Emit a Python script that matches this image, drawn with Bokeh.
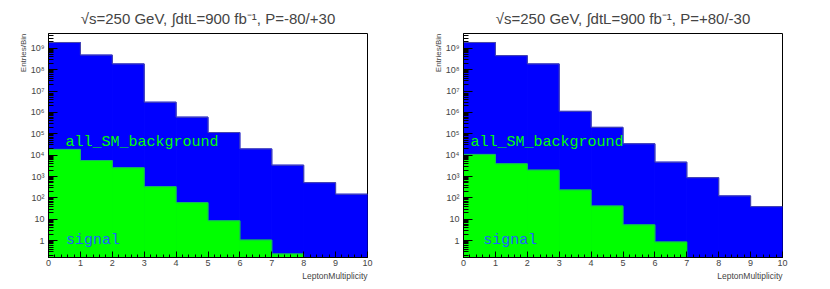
from bokeh.plotting import figure
from bokeh.layouts import row
from bokeh.models import FixedTicker, ColumnDataSource, Range1d, Title
from bokeh.core.properties import value
from bokeh.embed import file_html
from bokeh.resources import INLINE

# ---------------- data ----------------
bin_edges = [0, 1, 2, 3, 4, 5, 6, 7, 8, 9, 10]

bkg_left = [1.86e9, 4.8e8, 1.85e8, 3.0e6, 6.0e5, 1.14e5, 1.96e4, 3.4e3, 515, 149]
sig_left = [1.85e4, 5.6e3, 2.57e3, 336, 60, 8.5, 1.07, 0.24, 0, 0]

bkg_right = [1.86e9, 4.5e8, 1.85e8, 1.12e6, 2.0e5, 3.4e4, 4.7e3, 880, 124, 39]
sig_right = [1.08e4, 3.95e3, 2.0e3, 236, 42, 5.5, 0.87, 0, 0, 0]

titles = ["\u221as=250 GeV, \u222bdtL=900 fb\u207b\u00b9, P=-80/+30",
          "\u221as=250 GeV, \u222bdtL=900 fb\u207b\u00b9, P=+80/-30"]
x_title = "LeptonMultiplicity"
y_title = "Entries/Bin"
bkg_name = "all_SM_background"
sig_name = "signal"

y_ticks = [1, 10, 1e2, 1e3, 1e4, 1e5, 1e6, 1e7, 1e8, 1e9]
y_tick_labels = ["1", "10", "10\u00b2", "10\u00b3", "10\u2074", "10\u2075",
                 "10\u2076", "10\u2077", "10\u2078", "10\u2079"]
x_ticks = [0, 1, 2, 3, 4, 5, 6, 7, 8, 9, 10]

# legend-text anchor positions (data units)
bkg_text_pos = [(0.53, 3.9e4), (0.22, 3.9e4)]
sig_text_pos = [(0.55, 1.0), (0.62, 1.0)]

Y_LO, Y_HI = 0.163, 4.9e9
FLOOR = 1e-3

FONT = "Liberation Sans"
MONO = "Liberation Mono"


def make_panel(bkg, sig, title, left_border, right_border, bpos, spos):
    p = figure(width=left_border + 319 + right_border, height=288,
               y_axis_type="log", x_range=Range1d(0, 10),
               y_range=Range1d(Y_LO, Y_HI),
               output_backend="svg", toolbar_location=None,
               min_border_left=left_border, min_border_right=right_border,
               min_border_top=32, min_border_bottom=31)
    p.title = Title(text=title, align="center", text_font=FONT,
                    text_font_size="15px", text_font_style="normal",
                    standoff=14, offset=0)
    p.grid.visible = False
    p.outline_line_color = "black"
    p.outline_line_width = 1
    p.background_fill_color = "white"
    p.border_fill_color = "white"

    lefts = bin_edges[:-1]
    rights = bin_edges[1:]

    bsrc = ColumnDataSource(dict(left=lefts, right=rights, top=bkg,
                                 bottom=[FLOOR] * len(bkg)))
    p.quad(left="left", right="right", top="top", bottom="bottom",
           source=bsrc, fill_color="#0000ff", line_color="#0000ff",
           line_width=1)
    p.step(x=lefts + [bin_edges[-1]], y=bkg + [bkg[-1]], mode="after",
           line_color="#4a4aa8", line_width=1)

    idx = [i for i, v in enumerate(sig) if v > 0]
    ssrc = ColumnDataSource(dict(left=[lefts[i] for i in idx],
                                 right=[rights[i] for i in idx],
                                 top=[sig[i] for i in idx],
                                 bottom=[FLOOR] * len(idx)))
    p.quad(left="left", right="right", top="top", bottom="bottom",
           source=ssrc, fill_color="#00ff00", line_color="#00ff00",
           line_width=1)
    sx = [lefts[i] for i in idx] + [rights[idx[-1]]]
    sy = [sig[i] for i in idx] + [sig[idx[-1]]]
    p.step(x=sx, y=sy, mode="after", line_color="#2a8aa0", line_width=1,
           line_alpha=0.6)

    p.text(x=[bpos[0]], y=[bpos[1]], text=[bkg_name],
           text_color="#00ff00", text_font=value(MONO),
           text_font_size="15px", text_align="left", text_baseline="middle")
    p.text(x=[spos[0]], y=[spos[1]], text=[sig_name],
           text_color="#1f5fff", text_font=value(MONO),
           text_font_size="15px", text_align="left", text_baseline="middle")

    # axes
    xa = p.xaxis[0]
    xa.ticker = FixedTicker(ticks=x_ticks,
                            minor_ticks=[i * 0.2 for i in range(51)])
    xa.major_tick_in = 6
    xa.major_tick_out = 0
    xa.minor_tick_in = 3
    xa.minor_tick_out = 0
    xa.major_label_standoff = 2
    xa.major_label_text_font = FONT
    xa.major_label_text_font_size = "9px"
    xa.axis_line_color = "black"

    ya = p.yaxis[0]
    minors = []
    for d in range(-1, 10):
        for m in range(2, 10):
            minors.append(m * 10.0 ** d)
    ya.ticker = FixedTicker(ticks=y_ticks, minor_ticks=minors)
    ya.major_label_overrides = {t: l for t, l in zip(y_ticks, y_tick_labels)}
    ya.major_tick_in = 9
    ya.major_tick_out = 0
    ya.minor_tick_in = 5
    ya.minor_tick_out = 0
    ya.major_label_standoff = 4
    ya.major_label_text_font = FONT
    ya.major_label_text_font_size = "9px"
    ya.axis_line_color = "black"

    # ROOT-style axis titles aligned to the frame end
    p.add_layout(Title(text=x_title, align="right", text_font=FONT,
                       text_font_size="8.5px", text_font_style="normal",
                       standoff=0, offset=0), "below")
    p.add_layout(Title(text=y_title, align="right", text_font=FONT,
                       text_font_size="8px", text_font_style="normal",
                       standoff=0, offset=0), "left")
    return p


p1 = make_panel(bkg_left, sig_left, titles[0], 48, 48,
                bkg_text_pos[0], sig_text_pos[0])
p2 = make_panel(bkg_right, sig_right, titles[1], 48, 40,
                bkg_text_pos[1], sig_text_pos[1])

layout = row(p1, p2)
open("out.html", "w").write(file_html(layout, INLINE))
